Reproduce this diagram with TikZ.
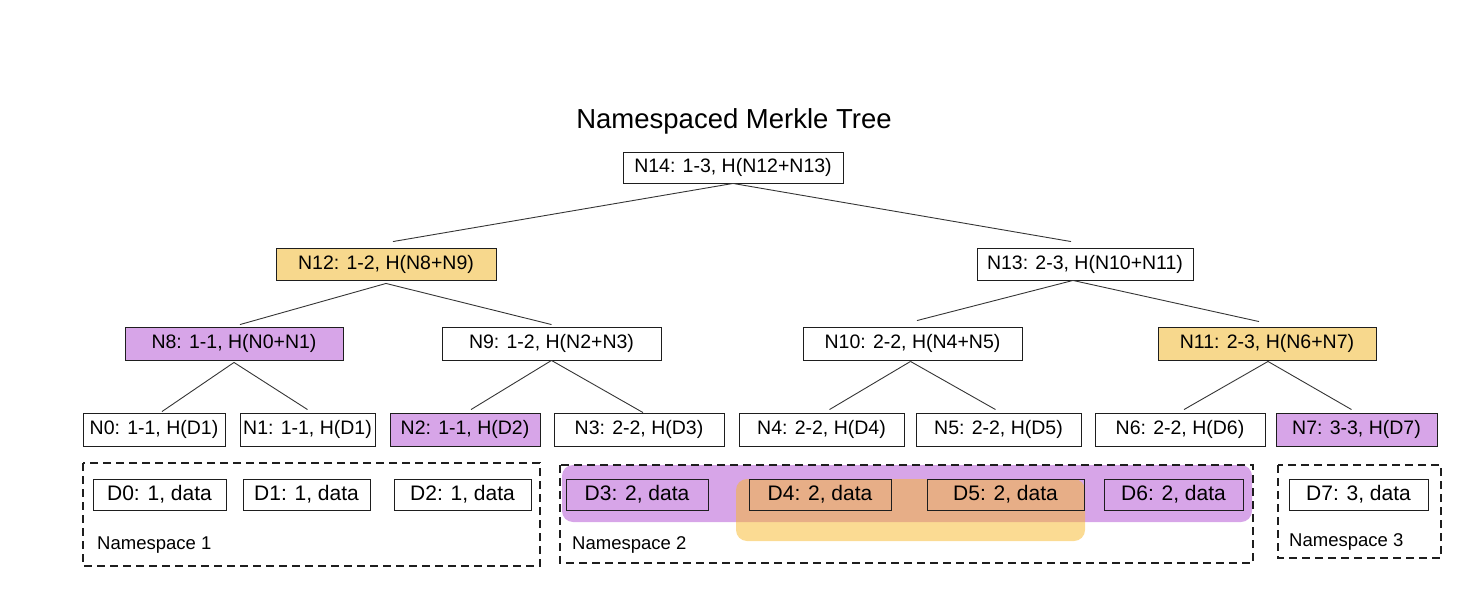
\documentclass[tikz,border=0pt]{standalone}
\usepackage{fontspec}
\setmainfont{Liberation Sans}
\definecolor{nmtpurple}{RGB}{215,165,232}
\definecolor{nmtyellow}{RGB}{247,216,141}
\definecolor{hlyellow}{RGB}{248,184,40}
\definecolor{ink}{RGB}{30,30,30}
\begin{document}
\begin{tikzpicture}[x=1pt,y=-1pt,
  nbox/.style={draw=ink, line width=0.9pt, inner sep=0pt, minimum height=32pt,
    font=\fontsize{19.5}{21}\selectfont, anchor=center},
  dbox/.style={nbox, minimum height=31pt, font=\fontsize{21}{23}\selectfont},
  purplefill/.style={fill=nmtpurple},
  yellowfill/.style={fill=nmtyellow},
  edge/.style={draw=ink!90, line width=0.9pt},
  nsbox/.style={draw=ink, line width=1.1pt, dash pattern=on 8pt off 5pt},
  nslabel/.style={anchor=west, inner sep=0pt, font=\fontsize{18.5}{20}\selectfont},
  title/.style={inner sep=0pt, font=\fontsize{27.5}{30}\selectfont}]
\useasboundingbox (0,0) rectangle (1476,594);

% highlights
\fill[nmtpurple, rounded corners=11pt] (562,465) rectangle (1252,522);
\fill[hlyellow, opacity=0.5, rounded corners=11pt] (736,479) rectangle (1085,541);

% namespace boxes
\draw[nsbox] (83,463) rectangle (540,566);
\draw[nsbox] (560,465) rectangle (1253,563);
\draw[nsbox] (1278,465) rectangle (1441,558);
\node[nslabel] (ns1) at (97,545) {Namespace 1};
\node[nslabel] (ns2) at (572,545) {Namespace 2};
\node[nslabel] (ns3) at (1289,542) {Namespace 3};

% title
\node[title] (title) at (734,121) {Namespaced Merkle Tree};

% tree nodes
\node[nbox, minimum width=220pt, minimum height=31pt] (n14) at (733,167.5) {N14: 1-3, H(N12+N13)};
\node[nbox, yellowfill, minimum width=220pt] (n12) at (386,264) {N12: 1-2, H(N8+N9)};
\node[nbox, minimum width=216pt] (n13) at (1085,264) {N13: 2-3, H(N10+N11)};
\node[nbox, purplefill, minimum width=218pt, minimum height=33pt] (n8) at (234,343.5) {N8: 1-1, H(N0+N1)};
\node[nbox, minimum width=219pt, minimum height=33pt] (n9) at (551.5,343.5) {N9: 1-2, H(N2+N3)};
\node[nbox, minimum width=219pt, minimum height=33pt] (n10) at (912.5,343.5) {N10: 2-2, H(N4+N5)};
\node[nbox, yellowfill, minimum width=218pt, minimum height=33pt] (n11) at (1267,343.5) {N11: 2-3, H(N6+N7)};

\node[nbox, minimum width=142pt, minimum height=33pt] (n0) at (154,429.5) {N0: 1-1, H(D1)};
\node[nbox, minimum width=135pt, minimum height=33pt] (n1) at (307.5,429.5) {N1: 1-1, H(D1)};
\node[nbox, purplefill, minimum width=150pt, minimum height=33pt] (n2) at (465,429.5) {N2: 1-1, H(D2)};
\node[nbox, minimum width=170pt, minimum height=33pt] (n3) at (639,429.5) {N3: 2-2, H(D3)};
\node[nbox, minimum width=165pt, minimum height=33pt] (n4) at (821.5,429.5) {N4: 2-2, H(D4)};
\node[nbox, minimum width=165pt, minimum height=33pt] (n5) at (998.5,429.5) {N5: 2-2, H(D5)};
\node[nbox, minimum width=170pt, minimum height=33pt] (n6) at (1180,429.5) {N6: 2-2, H(D6)};
\node[nbox, purplefill, minimum width=161pt, minimum height=33pt] (n7) at (1356.5,429.5) {N7: 3-3, H(D7)};

% data nodes
\node[dbox, minimum width=133pt] (d0) at (159.5,494.5) {D0: 1, data};
\node[dbox, minimum width=127pt] (d1) at (306.5,494.5) {D1: 1, data};
\node[dbox, minimum width=137pt] (d2) at (462.5,494.5) {D2: 1, data};
\node[dbox, minimum width=142pt] (d3) at (637,494.5) {D3: 2, data};
\node[dbox, minimum width=142pt] (d4) at (820,494.5) {D4: 2, data};
\node[dbox, minimum width=157pt] (d5) at (1005.5,494.5) {D5: 2, data};
\node[dbox, minimum width=139pt] (d6) at (1173.5,494.5) {D6: 2, data};
\node[dbox, minimum width=139pt] (d7) at (1358.5,494.5) {D7: 3, data};

% edges
\draw[edge] (n14.south) -- ([xshift=7pt,yshift=6pt]n12.north);
\draw[edge] (n14.south) -- ([xshift=-14pt,yshift=6pt]n13.north);
\draw[edge] ([yshift=-3pt]n12.south) -- ([xshift=6pt,yshift=2pt]n8.north);
\draw[edge] ([yshift=-3pt]n12.south) -- ([yshift=2pt]n9.north);
\draw[edge] ([xshift=-12pt]n13.south) -- ([xshift=4.5pt,yshift=6pt]n10.north);
\draw[edge] ([xshift=-12pt]n13.south) -- ([xshift=-8pt,yshift=5pt]n11.north);
\draw[edge] ([yshift=-2pt]n8.south) -- ([xshift=8pt,yshift=1pt]n0.north);
\draw[edge] ([yshift=-2pt]n8.south) -- ([yshift=3pt]n1.north);
\draw[edge] (n9.south) -- ([xshift=6pt,yshift=3pt]n2.north);
\draw[edge] (n9.south) -- ([xshift=4pt]n3.north);
\draw[edge] ([xshift=-2pt,yshift=-1pt]n10.south) -- ([xshift=8pt,yshift=3pt]n4.north);
\draw[edge] ([xshift=-2pt,yshift=-1pt]n10.south) -- ([xshift=-3pt,yshift=3pt]n5.north);
\draw[edge] ([xshift=1pt,yshift=-1pt]n11.south) -- ([xshift=4pt,yshift=3pt]n6.north);
\draw[edge] ([xshift=1pt,yshift=-1pt]n11.south) -- ([xshift=-5pt,yshift=3pt]n7.north);
\end{tikzpicture}
\end{document}
